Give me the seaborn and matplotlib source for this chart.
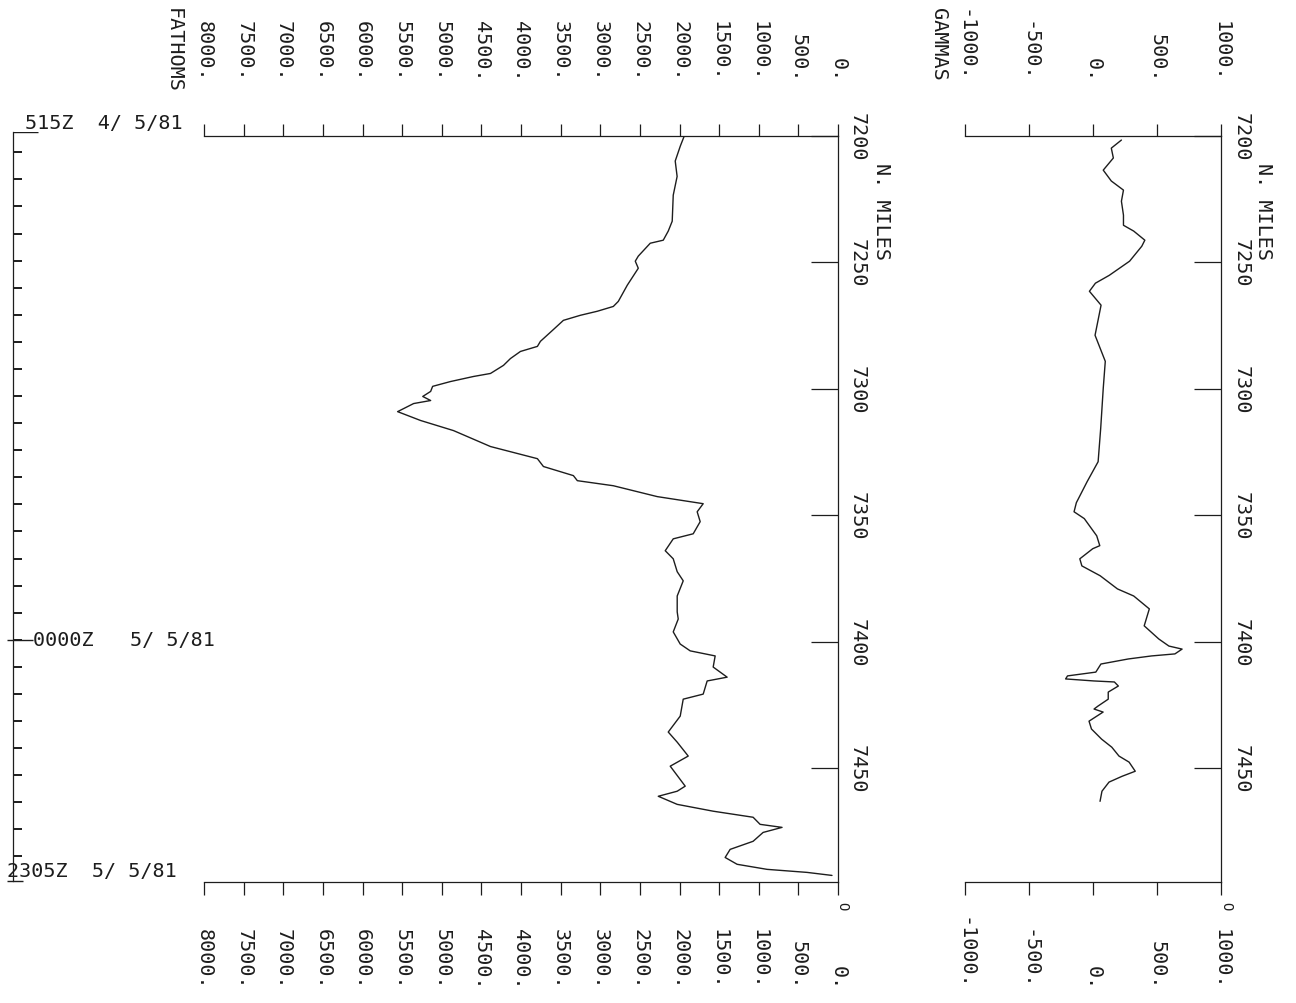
import matplotlib
matplotlib.use("Agg")
import matplotlib.pyplot as plt
import matplotlib.transforms as mtransforms
import pandas as pd
import seaborn as sns

# ---- Bathymetry along track: distance (N. miles) and depth (fathoms)
bathy_miles = [7200.0, 7204.0, 7209.9, 7216.0, 7223.4, 7233.7, 7237.6, 7241.2, 7242.4,
               7247.5, 7249.5, 7252.3, 7259.0, 7265.4, 7267.4, 7269.3, 7270.9, 7272.9,
               7276.9, 7281.2, 7283.2, 7285.2, 7288.0, 7290.7, 7293.9, 7295.1, 7297.1,
               7299.0, 7301.0, 7303.0, 7304.6, 7305.8, 7309.0, 7312.5, 7316.5, 7322.8,
               7327.6, 7330.7, 7334.3, 7336.3, 7338.3, 7342.6, 7345.4, 7348.6, 7352.5,
               7357.3, 7359.3, 7364.0, 7367.2, 7372.3, 7375.9, 7381.9, 7388.2, 7391.0,
               7396.1, 7400.9, 7403.6, 7405.6, 7410.0, 7414.0, 7415.5, 7420.7, 7422.7,
               7429.4, 7435.7, 7439.7, 7445.2, 7449.2, 7457.1, 7459.1, 7461.1, 7464.3,
               7467.0, 7469.4, 7472.2, 7473.4, 7475.4, 7478.9, 7482.1, 7485.3, 7488.0,
               7490.0, 7491.2, 7492.4]
bathy_fathoms = [1940, 1990, 2054, 2030, 2079, 2092, 2142, 2205, 2369,
                 2520, 2558, 2520, 2659, 2772, 2835, 3037, 3251, 3465,
                 3604, 3755, 3793, 4007, 4133, 4221, 4385, 4600, 4890,
                 5115, 5140, 5240, 5140, 5355, 5557, 5267, 4851, 4385,
                 3793, 3717, 3339, 3289, 2835, 2281, 1701, 1777, 1739,
                 1827, 2079, 2180, 2079, 2029, 1953, 2029, 2029, 2016,
                 2079, 1991, 1865, 1550, 1575, 1399, 1651, 1701, 1953,
                 1991, 2142, 2029, 1890, 2117, 1928, 2029, 2268, 2029,
                 1575, 1071, 983, 706, 945, 1071, 1361, 1424, 1273,
                 895, 391, 76]

# ---- Magnetic anomaly along track (gammas)
mag_miles = [7201.6, 7204.8, 7208.7, 7213.5, 7217.8, 7221.4, 7225.8, 7231.3, 7235.3,
             7237.6, 7241.2, 7243.6, 7249.5, 7255.1, 7258.2, 7261.4, 7266.9, 7278.8,
             7289.1, 7299.8, 7315.7, 7328.8, 7336.7, 7345.0, 7348.6, 7351.3, 7358.1,
             7362.0, 7363.2, 7367.2, 7370.0, 7373.9, 7379.1, 7381.9, 7387.0, 7393.7,
             7398.9, 7401.7, 7402.9, 7404.8, 7405.6, 7406.8, 7408.8, 7412.0, 7413.5,
             7414.7, 7415.5, 7415.9, 7417.5, 7419.9, 7422.7, 7425.4, 7426.6, 7427.8,
             7431.4, 7434.5, 7438.5, 7441.7, 7445.2, 7447.6, 7451.2, 7453.2, 7455.5,
             7459.1, 7463.1]
mag_gammas = [222, 143, 159, 80, 143, 238, 222, 238, 238,
              318, 405, 381, 286, 127, 19, -28, 63, 16,
              96, 80, 60, 40, -46, -130, -148, -68, 29,
              53, -2, -103, -87, 56, 191, 318, 440, 400,
              514, 593, 696, 640, 458, 276, 62, 22, -199,
              -214, 8, 167, 198, 119, 119, 40, 8, 79,
              -31, -12, 67, 147, 203, 282, 330, 227, 125,
              70, 55]

# ---- Axis scales and labels
depth_ticks = list(range(0, 8001, 500))
gamma_ticks = [-1000, -500, 0, 500, 1000]
mile_ticks = [7200, 7250, 7300, 7350, 7400, 7450]
mile_limits = (7495, 7200)

# ---- Ship's clock along the track: hourly marks (N. miles) and time notes
hour_mark_miles = [7208.0, 7218.7, 7229.3, 7240.0, 7250.7, 7261.3, 7272.0, 7282.7,
                   7293.3, 7304.0, 7314.7, 7325.3, 7336.0, 7346.7, 7357.3, 7368.0,
                   7378.7, 7389.3, 7400.0, 7410.7, 7421.3, 7432.0, 7442.7, 7453.3,
                   7464.0, 7474.7, 7485.3]
time_notes = ["515Z  4/ 5/81", "0000Z   5/ 5/81", "2305Z  5/ 5/81"]
time_note_miles = [7200.0, 7400.0, 7491.0]

W, H = 1296, 1004
INK = "#1d1d1d"
sns.set_theme(style="white")
plt.rcParams["font.family"] = ["DejaVu Sans Mono", "DejaVu Sans"]
plt.rcParams["axes.edgecolor"] = INK
plt.rcParams["axes.linewidth"] = 0.9

fig = plt.figure(figsize=(W / 100, H / 100), dpi=100)
fig.patch.set_facecolor("white")


def fx(px):
    return px / W


def fy(py):
    return 1 - py / H


FS = 14.5
TXT = dict(color=INK, fontsize=FS)


def panel(left_px, right_px):
    ax = fig.add_axes([fx(left_px), fy(883), fx(right_px) - fx(left_px), fy(137) - fy(883)])
    ax.set_facecolor("none")
    ax.spines["left"].set_visible(False)
    return ax


def style_panel(ax, xticks):
    ax.set_xticks(xticks)
    ax.set_yticks(mile_ticks)
    ax.set_ylim(*mile_limits)
    ax.set_xlabel("")
    ax.set_ylabel("")
    ax.tick_params(axis="x", which="both", top=True, bottom=True, direction="out",
                   length=9, width=0.9, color=INK, labeltop=False, labelbottom=False)
    ax.tick_params(axis="y", which="both", left=False, right=True, direction="in",
                   length=19.5, width=0.9, color=INK, labelleft=False, labelright=False)


# ---- Depth panel
ax_b = panel(204, 838)
bathy = pd.DataFrame({"miles": bathy_miles, "fathoms": bathy_fathoms})
sns.lineplot(data=bathy, x="fathoms", y="miles", orient="y", sort=False, estimator=None,
             color=INK, linewidth=1.0, ax=ax_b)
ax_b.set_xlim(8000, 0)
style_panel(ax_b, depth_ticks)

# ---- Magnetics panel
ax_m = panel(965, 1221)
mag = pd.DataFrame({"miles": mag_miles, "gammas": mag_gammas})
sns.lineplot(data=mag, x="gammas", y="miles", orient="y", sort=False, estimator=None,
             color=INK, linewidth=1.0, ax=ax_m)
ax_m.set_xlim(-1000, 1000)
style_panel(ax_m, gamma_ticks)

# value labels on both ends of the horizontal scales, reading downward
for ax, ticks in ((ax_b, depth_ticks), (ax_m, gamma_ticks)):
    tr = mtransforms.blended_transform_factory(ax.transData, fig.transFigure)
    for v in ticks:
        for y_end in (82, 990):
            ax.text(v, fy(y_end), f"{v}.", transform=tr, rotation=270,
                    ha="center", va="bottom", **TXT)

# distance labels beside the vertical scales
for ax, x_px, title_px in ((ax_b, 857, 882), (ax_m, 1241, 1264)):
    tr = mtransforms.blended_transform_factory(fig.transFigure, ax.transData)
    for m in mile_ticks:
        ax.text(fx(x_px), m, str(m), transform=tr, rotation=270,
                ha="center", va="center", **TXT)
    fig.text(fx(title_px), fy(163), "N. MILES", rotation=270, ha="center", va="top", **TXT)

fig.text(fx(173), fy(8), "FATHOMS", rotation=270, ha="center", va="top", **TXT)
fig.text(fx(938), fy(8), "GAMMAS", rotation=270, ha="center", va="top", **TXT)
fig.text(fx(842), fy(906), "O", rotation=270, ha="center", va="center", color=INK, fontsize=10)
fig.text(fx(1226), fy(906), "O", rotation=270, ha="center", va="center", color=INK, fontsize=10)

# ---- Time scale along the track
ax_t = fig.add_axes([fx(13), fy(882), fx(260) - fx(13), fy(133) - fy(882)])
ax_t.set_facecolor("none")
for s in ("top", "right", "bottom"):
    ax_t.spines[s].set_visible(False)
ax_t.set_xlim(0, 247)
ax_t.set_ylim(*mile_limits)
ax_t.set_xticks([])
ax_t.set_yticks([])
ax_t.hlines(hour_mark_miles, 0, 9, color=INK, linewidth=1.4)
ax_t.hlines([mile_limits[1]], 0, 25, color=INK, linewidth=1.0)
ax_t.hlines([time_note_miles[1]], -6, 20, color=INK, linewidth=1.0, clip_on=False)
ax_t.hlines([mile_limits[0]], -6, 10, color=INK, linewidth=1.0, clip_on=False)

ax_t.text(12, mile_limits[1], time_notes[0], ha="left", va="bottom", **TXT)
ax_t.text(20, time_note_miles[1], time_notes[1], ha="left", va="center", **TXT)
ax_t.text(-6, time_note_miles[2], time_notes[2], ha="left", va="center", **TXT)

fig.savefig("out.png", dpi=100, facecolor="white")
